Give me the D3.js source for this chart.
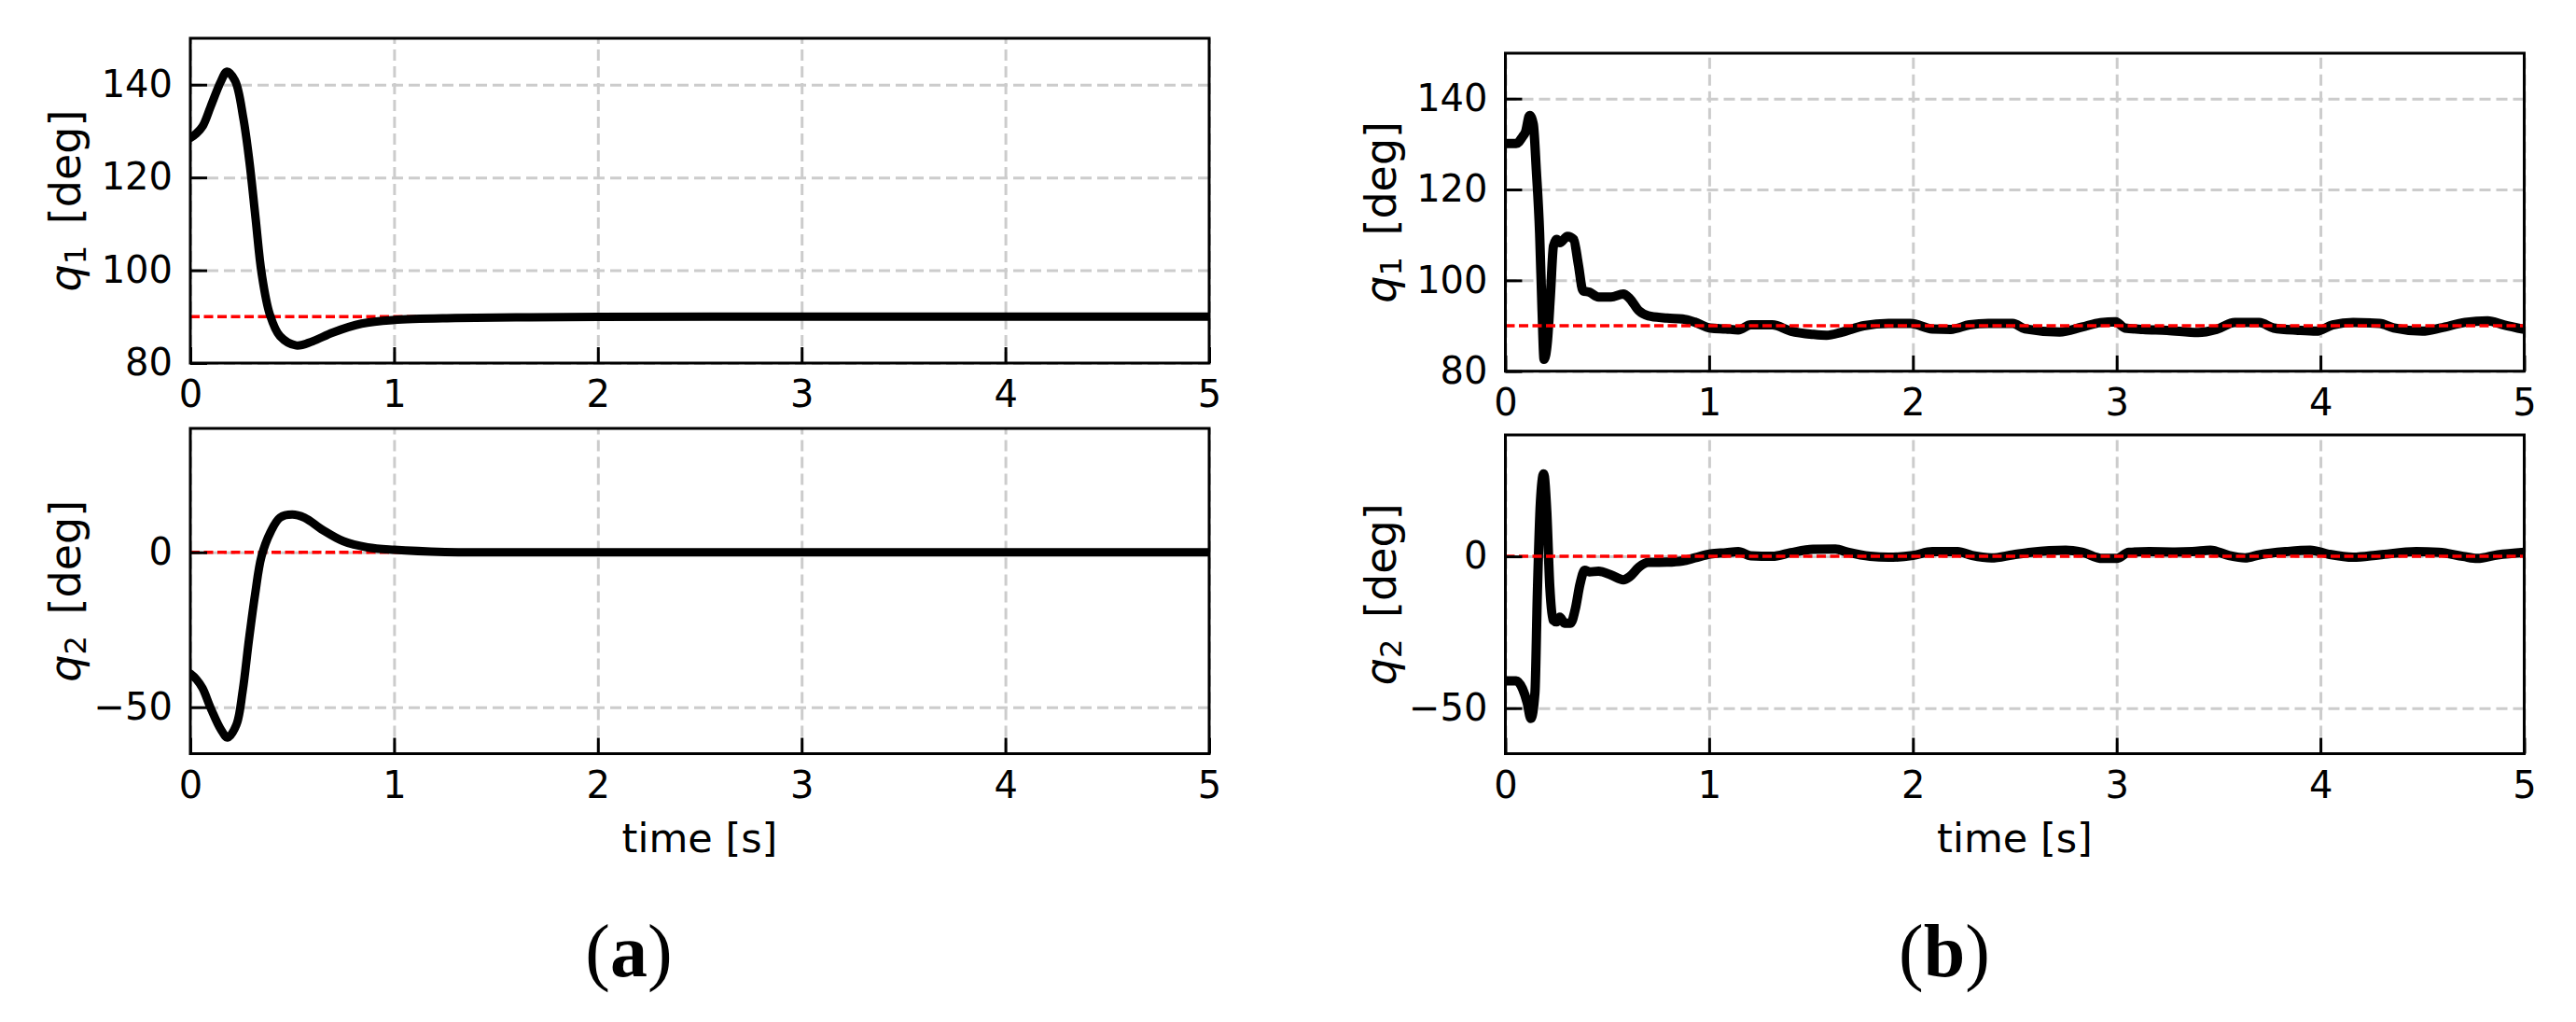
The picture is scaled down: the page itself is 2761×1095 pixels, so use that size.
<!DOCTYPE html>
<html>
<head>
<meta charset="utf-8">
<script src="https://cdn.jsdelivr.net/npm/d3@7"></script>
<style>
  body { margin: 0; background: #fff; }
  svg { display: block; background: #fff; }
  text { font-family: "DejaVu Sans", sans-serif; fill: #000; }
  .grid line { stroke: #cccccc; stroke-width: 3; stroke-dasharray: 12,6; }
  .grid path { display: none; }
  .axis path { display: none; }
  .axis line { stroke: #000; stroke-width: 3; }
</style>
</head>
<body>
<svg width="2761" height="1095"></svg>
<script>
// tick values and axis ranges
var xTicks = [0, 1, 2, 3, 4, 5];
var q1Ticks = [80, 100, 120, 140];
var q2Ticks = [-50, 0];
var q1Domain = [80, 150];
var q2Domain = [-65, 40];
var q1Ref = 90;
var q2Ref = 0;

// (a) q1
var tA1 = [0, 0.03, 0.06, 0.1, 0.15, 0.18, 0.22, 0.26, 0.29, 0.32, 0.35, 0.39, 0.44, 0.52, 0.6, 0.7, 0.84, 1.0, 1.3, 1.6, 2.0, 3.0, 4.0, 5.0];
var q1A = [128.5, 129.5, 131, 135.3, 140.7, 142.8, 140.8, 132.8, 123.4, 111.3, 99.3, 90.5, 85.8, 83.8, 84.7, 86.6, 88.5, 89.3, 89.7, 89.85, 89.95, 90, 90, 90];

// (a) q2
var tA2 = [0, 0.03, 0.06, 0.1, 0.15, 0.183, 0.226, 0.257, 0.287, 0.318, 0.349, 0.394, 0.44, 0.5, 0.56, 0.65, 0.75, 0.87, 1.0, 1.25, 1.6, 2.0, 3.0, 5.0];
var q2A = [-39.2, -41, -43.9, -50.3, -57.2, -59.8, -55.7, -44.7, -28.6, -13.5, -1.4, 6.6, 11.2, 12.2, 11.2, 7.2, 3.6, 1.6, 0.8, 0.1, 0, 0, 0, 0];

// (b) q1
var tB1 = [0, 0.053, 0.084, 0.099, 0.119, 0.137, 0.152, 0.168, 0.18, 0.19, 0.206, 0.221, 0.236, 0.252, 0.267, 0.305, 0.335, 0.358, 0.381, 0.412,
           0.457, 0.518, 0.579, 0.61, 0.655, 0.701, 0.793, 0.869, 0.93, 1.006, 1.082, 1.143, 1.204, 1.31, 1.402, 1.509, 1.576, 1.652, 1.759, 1.88,
           1.988, 2.095, 2.186, 2.278, 2.37, 2.49, 2.55, 2.72, 2.83, 2.92, 2.995, 3.04, 3.13, 3.247, 3.4, 3.49, 3.58, 3.7, 3.77, 3.89,
           3.98, 4.06, 4.16, 4.29, 4.36, 4.5, 4.59, 4.71, 4.82, 4.9, 5.0];
var q1B = [130.1, 130.1, 131.6, 132.7, 136.3, 134.4, 124.1, 110.4, 93.3, 82.6, 86.4, 96.7, 107.6, 109, 108.3, 109.7, 109, 103.5, 97.7, 97.4,
           96.3, 96.3, 97, 96, 93.3, 92.2, 91.7, 91.5, 90.8, 89.5, 89.3, 89.1, 90.2, 90.2, 88.8, 88.1, 87.9, 88.6, 90, 90.5,
           90.5, 89.3, 89.2, 90.2, 90.5, 90.5, 89.3, 88.6, 89.7, 90.7, 90.9, 89.5, 89.2, 89.0, 88.5, 89.2, 90.7, 90.7, 89.5, 89.0,
           88.8, 90.2, 90.7, 90.5, 89.5, 88.8, 89.5, 90.75, 91.1, 90.2, 89.2];

// (b) q2
var tB2 = [0, 0.053, 0.084, 0.107, 0.125, 0.145, 0.157, 0.172, 0.188, 0.203, 0.218, 0.234, 0.252, 0.267, 0.29, 0.32, 0.343, 0.366, 0.389, 0.412,
           0.457, 0.518, 0.579, 0.61, 0.655, 0.701, 0.793, 0.869, 0.93, 1.006, 1.082, 1.143, 1.204, 1.31, 1.4, 1.509, 1.62, 1.68, 1.79, 1.88,
           2.0, 2.095, 2.22, 2.29, 2.385, 2.49, 2.58, 2.75, 2.83, 2.93, 3.0, 3.06, 3.16, 3.285, 3.37, 3.46, 3.55, 3.63, 3.7, 3.83,
           3.95, 4.04, 4.16, 4.29, 4.47, 4.58, 4.7, 4.77, 4.87, 5.0];
var q2B = [-41, -41, -43.6, -48.2, -53.4, -45, -12, 18, 27.2, 15, -10, -21, -21.6, -20, -22, -22, -17.4, -9.2, -4.6, -5.1,
           -4.9, -6.1, -7.7, -6.7, -3.6, -2.0, -1.9, -1.5, -0.5, 0.8, 1.2, 1.55, 0.2, 0, 1.2, 2.3, 2.4, 1.35, 0, -0.3,
           0.3, 1.55, 1.55, 0.3, -0.5, 0.5, 1.35, 2.06, 1.35, -0.7, -0.7, 1.35, 1.55, 1.45, 1.55, 2.06, 0.3, -0.5, 0.5, 1.55,
           2.06, 0.7, -0.3, 0.5, 1.55, 1.35, 0, -0.7, 0.5, 1.35];

// layout of the four axes
var panels = [
  {id: "a1", left: 204,  top: 41,  w: 1092, h: 348,   domain: q1Domain, ticks: q1Ticks, t: tA1, v: q1A, ref: q1Ref, refOnTop: false, lw: 9, smooth: true, sub: "1"},
  {id: "a2", left: 204,  top: 459, w: 1092, h: 348.5, domain: q2Domain, ticks: q2Ticks, t: tA2, v: q2A, ref: q2Ref, refOnTop: false, lw: 9, smooth: true, sub: "2"},
  {id: "b1", left: 1613.5, top: 57,  w: 1092, h: 340.7, domain: q1Domain, ticks: q1Ticks, t: tB1, v: q1B, ref: q1Ref, refOnTop: true, lw: 10, smooth: false, sub: "1"},
  {id: "b2", left: 1613.5, top: 466, w: 1092, h: 341.5, domain: q2Domain, ticks: q2Ticks, t: tB2, v: q2B, ref: q2Ref, refOnTop: true, lw: 10, smooth: false, sub: "2"}
];

var svg = d3.select("svg");
svg.append("rect").attr("width", 2761).attr("height", 1095).attr("fill", "#fff");
var defs = svg.append("defs");

panels.forEach(function(p) {
  var x = d3.scaleLinear().domain([0, 5]).range([0, p.w]);
  var y = d3.scaleLinear().domain(p.domain).range([p.h, 0]);

  var g = svg.append("g").attr("transform", "translate(" + p.left + "," + p.top + ")");

  defs.append("clipPath").attr("id", "clip-" + p.id)
    .append("rect").attr("width", p.w).attr("height", p.h);

  // grid
  g.append("g").attr("class", "grid")
    .call(d3.axisLeft(y).tickValues(p.ticks).tickSize(-p.w).tickFormat(""));
  g.append("g").attr("class", "grid")
    .attr("transform", "translate(0," + p.h + ")")
    .call(d3.axisBottom(x).tickValues(xTicks).tickSize(-p.h).tickFormat(""));

  var pts = p.t.map(function(t, i) { return [t, p.v[i]]; });
  var line = d3.line()
    .x(function(d) { return x(d[0]); })
    .y(function(d) { return y(d[1]); })
    .curve(p.smooth ? d3.curveCatmullRom.alpha(0.5) : d3.curveMonotoneX);

  var plot = g.append("g").attr("clip-path", "url(#clip-" + p.id + ")");

  function drawRef() {
    plot.append("line")
      .attr("x1", x(0)).attr("x2", x(5))
      .attr("y1", y(p.ref)).attr("y2", y(p.ref))
      .attr("stroke", "#ff0000").attr("stroke-width", 3.5)
      .attr("stroke-dasharray", "10,4.5");
  }
  if (!p.refOnTop) drawRef();
  plot.append("path")
    .datum(pts)
    .attr("d", line)
    .attr("fill", "none")
    .attr("stroke", "#000")
    .attr("stroke-width", p.lw)
    .attr("stroke-linejoin", "round")
    .attr("stroke-linecap", "round");
  if (p.refOnTop) drawRef();

  // axes with inward ticks
  var ya = g.append("g").attr("class", "axis")
    .call(d3.axisLeft(y).tickValues(p.ticks).tickFormat(d3.format("d"))
      .tickSizeInner(-18).tickSizeOuter(0).tickPadding(19));
  var xa = g.append("g").attr("class", "axis")
    .attr("transform", "translate(0," + p.h + ")")
    .call(d3.axisBottom(x).tickValues(xTicks).tickFormat(d3.format("d"))
      .tickSizeInner(-17).tickSizeOuter(0).tickPadding(19));
  [ya, xa].forEach(function(a) {
    a.attr("font-size", null).attr("font-family", null);
    a.selectAll("text").style("font-size", "40px");
  });

  // frame
  g.append("rect")
    .attr("width", p.w).attr("height", p.h)
    .attr("fill", "none").attr("stroke", "#000").attr("stroke-width", 3);

  // y label
  var lab = g.append("text")
    .attr("transform", "translate(-131," + (p.h / 2) + ") rotate(-90)")
    .attr("text-anchor", "middle")
    .attr("dominant-baseline", "middle")
    .style("font-size", "46px");
  lab.append("tspan").style("font-style", "italic").text("q");
  lab.append("tspan").attr("dy", 10).style("font-size", "32px").text(p.sub);
  lab.append("tspan").attr("dy", -10).attr("dx", 8).text(" [deg]");
});

// x labels and sub-figure captions
[{cx: 750, cap: "a", capx: 674}, {cx: 2159.5, cap: "b", capx: 2084}].forEach(function(c) {
  svg.append("text")
    .attr("x", c.cx).attr("y", 913)
    .attr("text-anchor", "middle")
    .style("font-size", "43px")
    .text("time [s]");
  var t = svg.append("text")
    .attr("x", c.capx).attr("y", 1046)
    .attr("text-anchor", "middle")
    .style("font-family", "'Liberation Serif', serif")
    .style("font-size", "80px");
  t.append("tspan").text("(");
  t.append("tspan").style("font-weight", "bold").text(c.cap);
  t.append("tspan").text(")");
});
</script>
</body>
</html>
